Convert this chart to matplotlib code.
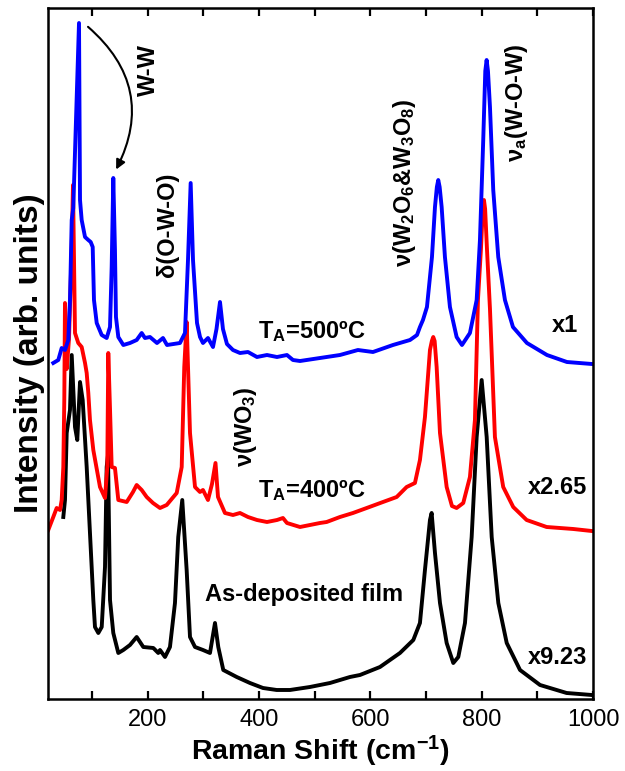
import matplotlib
matplotlib.use("Agg")
import matplotlib.pyplot as plt
from matplotlib.ticker import MultipleLocator

plt.rcParams['font.family'] = ['Liberation Sans', 'DejaVu Sans']
plt.rcParams['mathtext.fontset'] = 'custom'
plt.rcParams['mathtext.rm'] = 'Liberation Sans:bold'
plt.rcParams['mathtext.it'] = 'Liberation Sans:bold'
plt.rcParams['mathtext.bf'] = 'Liberation Sans:bold'
plt.rcParams['mathtext.default'] = 'rm'

# TA = 500 C (x1), offset already included
shift_500 = [30.4, 39.4, 45.5, 51.4, 57.4, 60.4, 63.5, 66.3, 76.6, 78.4, 81.4, 87.4, 93.3, 97.6,
             101.2, 103.5, 108.4, 117.4, 126.3, 132.3, 135.3, 138.2, 141.2, 143.0, 147.2, 156.2,
             168.2, 180.2, 189.2, 195.1, 204.1, 216.7, 227.5, 234.7, 258.0, 267.0, 272.4, 277.2,
             281.4, 288.6, 294.0, 299.3, 308.3, 317.3, 323.6, 329.9, 335.2, 342.4, 353.2, 365.8,
             380.2, 396.3, 414.3, 432.3, 450.2, 461.0, 473.6, 509.5, 545.4, 577.7, 604.7, 640.6,
             671.2, 683.8, 689.1, 694.5, 701.7, 710.7, 716.1, 719.5, 722.0, 724.5, 728.1, 734.0,
             743.0, 755.0, 764.6, 778.9, 791.0, 796.9, 802.8, 806.5, 808.9, 811.3, 814.9, 820.8,
             829.8, 841.8, 856.2, 881.3, 917.3, 953.2, 998.1]
int_500 = [336, 339, 351, 349, 359, 399, 479, 491, 676, 499, 479, 462, 459, 457,
           452, 399, 376, 364, 361, 372, 432, 521, 449, 382, 362, 354,
           356, 359, 366, 361, 362, 356, 361, 354, 356, 366, 439, 516,
           439, 376, 362, 356, 361, 352, 370, 397, 370, 355, 349, 346,
           347, 342, 344, 342, 344, 339, 338, 341, 344, 349, 347, 354,
           359, 364, 372, 379, 392, 442, 492, 512, 519, 512, 492, 442,
           392, 362, 354, 366, 399, 459, 559, 628, 639, 628, 592, 509,
           442, 399, 372, 356, 344, 337, 335]

# TA = 400 C (x2.65)
shift_400 = [21.4, 30.4, 36.5, 42.5, 45.5, 48.4, 50.2, 51.4, 54.5, 58.6, 63.5, 65.8, 69.4, 75.3,
             81.4, 87.4, 90.4, 93.3, 96.3, 102.3, 114.3, 123.3, 127.4, 129.2, 132.3, 135.3, 141.2,
             147.2, 162.3, 173.6, 180.2, 189.2, 198.2, 209.5, 222.1, 234.1, 252.1, 261.1, 265.7,
             270.0, 276.0, 285.0, 293.9, 299.3, 308.3, 315.5, 321.8, 326.3, 338.8, 353.2, 365.8,
             380.2, 396.3, 414.3, 432.3, 443.0, 450.2, 473.6, 509.5, 521.5, 545.4, 568.8, 593.4,
             622.7, 647.3, 665.2, 680.1, 689.1, 698.1, 707.1, 710.5, 713.0, 715.5, 719.1, 725.1,
             737.1, 746.6, 755.0, 766.9, 778.9, 787.9, 793.3, 798.7, 802.0, 804.1, 806.2, 809.5,
             814.9, 823.8, 838.7, 856.7, 880.8, 916.7, 964.5, 997.6]
int_400 = [169, 182, 191, 189, 199, 232, 300, 396, 330, 360, 450, 514, 366, 356,
           352, 336, 326, 306, 279, 249, 212, 201, 232, 346, 290, 232, 231,
           199, 197, 207, 214, 209, 202, 196, 191, 194, 206, 232, 332,
           377, 266, 212, 207, 209, 199, 215, 236, 202, 186, 184, 186,
           182, 179, 177, 179, 181, 176, 172, 176, 177, 182, 186, 191,
           197, 202, 212, 216, 239, 282, 349, 358, 362, 358, 332, 266,
           212, 193, 191, 196, 222, 279, 399, 450, 490, 499, 490, 450,
           390, 262, 212, 192, 179, 172, 170, 168]

# as-deposited film (x9.23)
shift_dep = [48.4, 51.4, 54.5, 60.4, 63.5, 69.4, 73.5, 78.4, 83.2, 90.4, 96.3, 102.3, 105.3, 111.3,
             117.4, 123.3, 126.3, 128.7, 132.3, 138.2, 147.2, 156.2, 168.2, 180.2, 192.1, 210.1,
             219.0, 222.1, 231.1, 240.0, 249.0, 254.9, 262.1, 270.0, 276.0, 285.0, 299.3, 311.9,
             320.9, 326.8, 335.8, 359.9, 383.7, 407.1, 431.7, 455.6, 491.5, 527.5, 563.4, 581.4,
             617.3, 653.2, 677.2, 689.1, 698.1, 707.1, 710.1, 716.1, 725.1, 737.1, 749.0, 758.0,
             770.0, 782.0, 791.0, 800.0, 809.0, 818.0, 829.9, 845.0, 868.9, 904.8, 952.6, 997.5]
int_dep = [182, 199, 266, 289, 344, 272, 259, 317, 299, 232, 166, 99, 72, 66,
           72, 132, 232, 244, 99, 66, 46, 49, 54, 62, 52, 51,
           46, 49, 42, 52, 96, 162, 199, 129, 62, 52, 49, 46,
           76, 52, 29, 22, 16, 11, 9, 9, 12, 16, 22, 24,
           32, 46, 59, 76, 129, 179, 186, 146, 96, 56, 36, 42,
           76, 162, 262, 319, 262, 162, 96, 56, 29, 14, 6, 4]


def main():
    fig = plt.figure(figsize=(6.25, 7.71), dpi=100)
    ax = fig.add_axes([0.076, 0.0934, 0.8728, 0.8962])

    lw = 2.8
    ax.plot(shift_dep, int_dep, color='black', lw=lw, solid_joinstyle='round')
    ax.plot(shift_400, int_400, color='#ff0000', lw=lw, solid_joinstyle='round')
    ax.plot(shift_500, int_500, color='#0000ff', lw=lw, solid_joinstyle='round')

    ax.set_xlim(20, 1000)
    ax.set_ylim(0, 691)

    ax.xaxis.set_major_locator(MultipleLocator(200))
    ax.xaxis.set_minor_locator(MultipleLocator(100))
    ax.tick_params(axis='x', which='both', direction='in', top=True, length=6, width=1.6,
                   labelsize=17, pad=7)
    ax.set_yticks([])
    for s in ax.spines.values():
        s.set_linewidth(1.8)

    ax.set_xlabel('Raman Shift (cm$^{-1}$)', fontsize=20.5, fontweight='bold', labelpad=2)
    ax.set_ylabel('Intensity (arb. units)', fontsize=24, fontweight='bold', labelpad=2)

    fs = 17
    ax.text(200.5, 629, 'W-W', rotation=90, ha='center', va='center', fontsize=fs, fontweight='bold')
    ax.annotate('', xy=(141, 527), xytext=(89, 674),
                arrowprops=dict(arrowstyle='-|>', color='black', lw=1.5,
                                connectionstyle='arc3,rad=-0.4', mutation_scale=14))
    ax.text(235, 474, 'δ(O-W-O)', rotation=90, ha='center', va='center', fontsize=fs, fontweight='bold')
    ax.text(662, 516, 'ν(W$_2$O$_6$&W$_3$O$_8$)', rotation=90, ha='center', va='center',
            fontsize=fs, fontweight='bold')
    ax.text(863, 596, 'ν$_a$(W-O-W)', rotation=90, ha='center', va='center', fontsize=fs, fontweight='bold')
    ax.text(375, 272, 'ν(WO$_3$)', rotation=90, ha='center', va='center', fontsize=fs, fontweight='bold')

    ax.text(398, 361, 'T$_A$=500ºC', ha='left', va='baseline', fontsize=fs, fontweight='bold')
    ax.text(398, 202, 'T$_A$=400ºC', ha='left', va='baseline', fontsize=fs, fontweight='bold')
    ax.text(481, 104, 'As-deposited film', ha='center', va='center', fontsize=fs, fontweight='bold')

    ax.text(973, 374, 'x1', ha='right', va='center', fontsize=fs, fontweight='bold')
    ax.text(989, 211, 'x2.65', ha='right', va='center', fontsize=fs, fontweight='bold')
    ax.text(989, 41, 'x9.23', ha='right', va='center', fontsize=fs, fontweight='bold')

    fig.savefig('out.png', dpi=100)


if __name__ == "__main__":
    main()
